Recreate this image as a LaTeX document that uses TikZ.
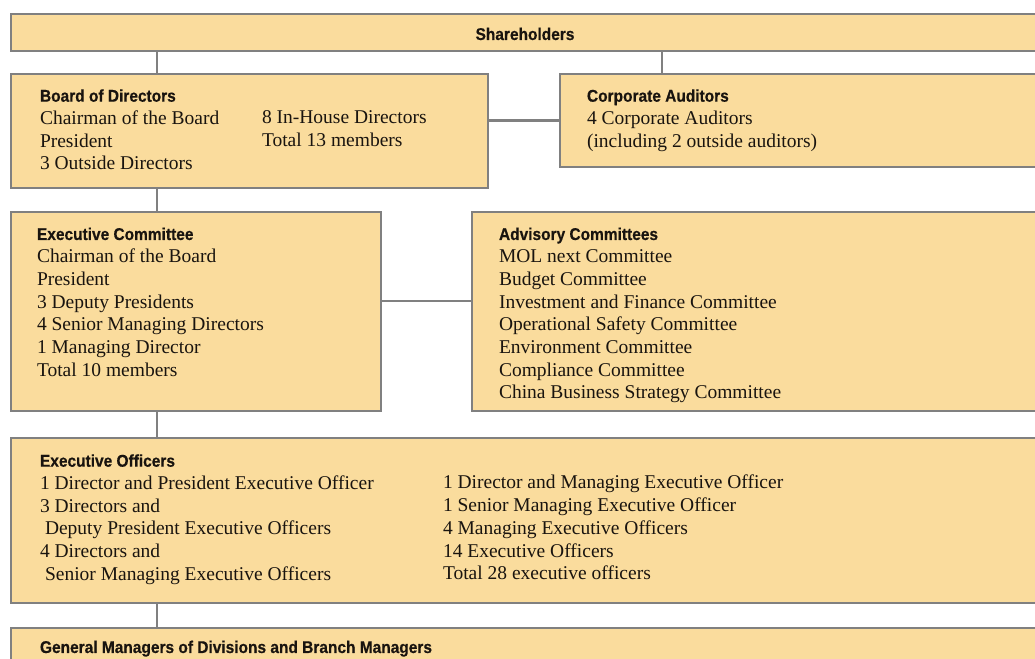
\documentclass[tikz,border=0pt]{standalone}
\usepackage{fontspec}
\setmainfont{Liberation Serif}
\newfontfamily\titlefont{Liberation Sans}[FakeStretch=0.91, FakeBold=0.5]
\definecolor{boxfill}{RGB}{250,220,157}
\definecolor{boxline}{RGB}{128,128,128}
\definecolor{inktext}{RGB}{25,20,15}
\newcommand\ttl[1]{{\titlefont\bfseries\fontsize{17}{22.7}\selectfont #1}}
\begin{document}
\begin{tikzpicture}[x=1pt,y=-1pt,
  box/.style={draw=boxline, fill=boxfill, line width=2.8pt, rectangle, inner sep=0pt, outer sep=0pt, anchor=north west},
  link/.style={draw=boxline, line width=2.6pt},
  body/.style={font=\fontsize{19.5}{22.7}\selectfont, text=inktext, align=left, anchor=north west, inner sep=0pt, outer sep=0pt},
  ]
\useasboundingbox (0,0) rectangle (1035,658);
\begin{scope}
\clip (0,0) rectangle (1035,658);
% boxes
\node[box, minimum width=1034pt, minimum height=37pt]  (sh) at (11,14) {};
\node[box, minimum width=477pt,  minimum height=114pt] (bd) at (11,74) {};
\node[box, minimum width=485pt,  minimum height=93pt]  (ca) at (560,74) {};
\node[box, minimum width=370pt,  minimum height=199pt] (ec) at (11,212) {};
\node[box, minimum width=573pt,  minimum height=199pt] (ac) at (472,212) {};
\node[box, minimum width=1034pt, minimum height=165pt] (eo) at (11,438) {};
\node[box, minimum width=1034pt, minimum height=60pt]  (gm) at (11,628) {};
% connectors
\coordinate (cx) at (157,0);
\coordinate (cx2) at (662,0);
\coordinate (cy) at (0,301);
\draw[link] (cx |- sh.south) -- (cx |- bd.north);
\draw[link] (cx2 |- sh.south) -- (cx2 |- ca.north);
\draw[link] (ca.west -| bd.east) -- (ca.west);
\draw[link] (cx |- bd.south) -- (cx |- ec.north);
\draw[link] (cy -| ec.east) -- (cy -| ac.west);
\draw[link] (cx |- ec.south) -- (cx |- eo.north);
\draw[link] (cx |- eo.south) -- (cx |- gm.north);
% texts
\node[inner sep=0pt, anchor=base, text=inktext] (shtext) at (525,40) {\ttl{Shareholders}};
\node[body] (bdtext) at (40,85.8) {\strut\ttl{Board of Directors}\\Chairman of the Board\\President\\3 Outside Directors};
\node[body] (bdtext2) at (262,107.6) {\strut 8 In-House Directors\\Total 13 members};
\node[body] (catext) at (587,85.8) {\strut\ttl{Corporate Auditors}\\4 Corporate Auditors\\(including 2 outside auditors)};
\node[body] (ectext) at (37,224.1) {\strut\ttl{Executive Committee}\\Chairman of the Board\\President\\3 Deputy Presidents\\4 Senior Managing Directors\\1 Managing Director\\Total 10 members};
\node[body] (actext) at (499,224.1) {\strut\ttl{Advisory Committees}\\MOL next Committee\\Budget Committee\\Investment and Finance Committee\\Operational Safety Committee\\Environment Committee\\Compliance Committee\\China Business Strategy Committee};
\node[body] (eotext) at (40,450.8) {\strut\ttl{Executive Officers}\\1 Director and President Executive Officer\\3 Directors and\\\hspace*{5pt}Deputy President Executive Officers\\4 Directors and\\\hspace*{5pt}Senior Managing Executive Officers};
\node[body] (eotext2) at (443,473.1) {\strut 1 Director and Managing Executive Officer\\1 Senior Managing Executive Officer\\4 Managing Executive Officers\\14 Executive Officers\\Total 28 executive officers};
\node[body] (gmtext) at (40,637.1) {\strut\ttl{General Managers of Divisions and Branch Managers}};
\end{scope}
\end{tikzpicture}
\end{document}
